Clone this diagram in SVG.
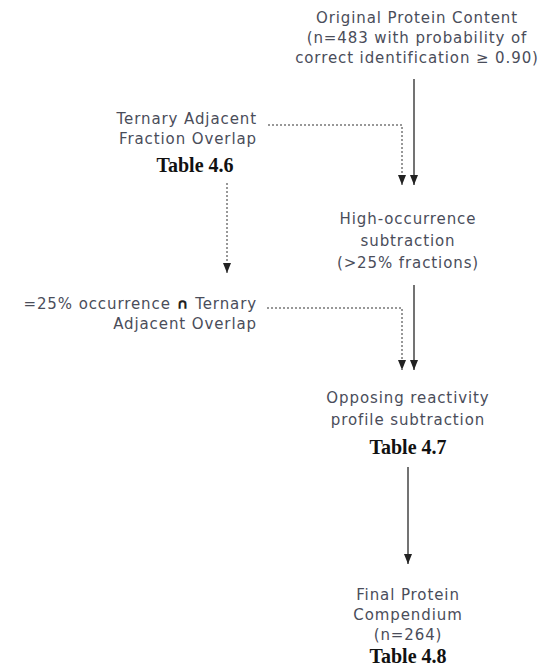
<svg xmlns="http://www.w3.org/2000/svg" width="541" height="668" viewBox="0 0 541 668">
<defs>
<style>
.t{font-family:"DejaVu Sans","Verdana",sans-serif;font-size:15px;letter-spacing:0.9px;fill:#4a4d5a}
.c{text-anchor:middle}
.r{text-anchor:end}
.tb{font-family:"Liberation Serif","Times New Roman",serif;font-size:20px;font-weight:bold;fill:#111;text-anchor:middle}
.s{stroke:#444;stroke-width:1.5;fill:none}
.d{stroke:#777;stroke-width:1.5;fill:none;stroke-dasharray:2 2}
</style>
<marker id="ahd" viewBox="0 0 8 10" refX="4" refY="10" markerWidth="8" markerHeight="10" markerUnits="userSpaceOnUse" orient="0">
<path d="M0,0 L8,0 L4,10 Z" fill="#222"/>
</marker>
</defs>
<rect width="541" height="668" fill="#fff"/>
<g id="connectors">
<path class="s" d="M414,79 V185" marker-end="url(#ahd)"/>
<path class="d" d="M268,125 H402 V185" marker-end="url(#ahd)"/>
<path class="d" d="M227,183 V273" marker-end="url(#ahd)"/>
<path class="s" d="M414,285 V370" marker-end="url(#ahd)"/>
<path class="d" d="M267,308 H402 V370" marker-end="url(#ahd)"/>
<path class="s" d="M408,467 V564" marker-end="url(#ahd)"/>
</g>
<g id="original">
<text class="t c" x="417" y="23">Original Protein Content</text>
<text class="t c" x="417" y="43">(n=483 with probability of</text>
<text class="t c" x="417" y="63">correct identification ≥ 0.90)</text>
</g>
<g id="ternary">
<text class="t r" x="257" y="124">Ternary Adjacent</text>
<text class="t r" x="257" y="144">Fraction Overlap</text>
<text class="tb" x="195" y="172">Table 4.6</text>
</g>
<g id="highocc">
<text class="t c" x="408" y="224">High-occurrence</text>
<text class="t c" x="408" y="246">subtraction</text>
<text class="t c" x="408" y="268">(&gt;25% fractions)</text>
</g>
<g id="intersect">
<text class="t r" x="257" y="309">=25% occurrence <tspan font-weight="bold" fill="#222">∩</tspan> Ternary</text>
<text class="t r" x="257" y="329">Adjacent Overlap</text>
</g>
<g id="opposing">
<text class="t c" x="408" y="403">Opposing reactivity</text>
<text class="t c" x="408" y="425">profile subtraction</text>
<text class="tb" x="408" y="454">Table 4.7</text>
</g>
<g id="final">
<text class="t c" x="408" y="600">Final Protein</text>
<text class="t c" x="408" y="620">Compendium</text>
<text class="t c" x="408" y="640">(n=264)</text>
<text class="tb" x="408" y="663" font-size="19">Table 4.8</text>
</g>
</svg>
